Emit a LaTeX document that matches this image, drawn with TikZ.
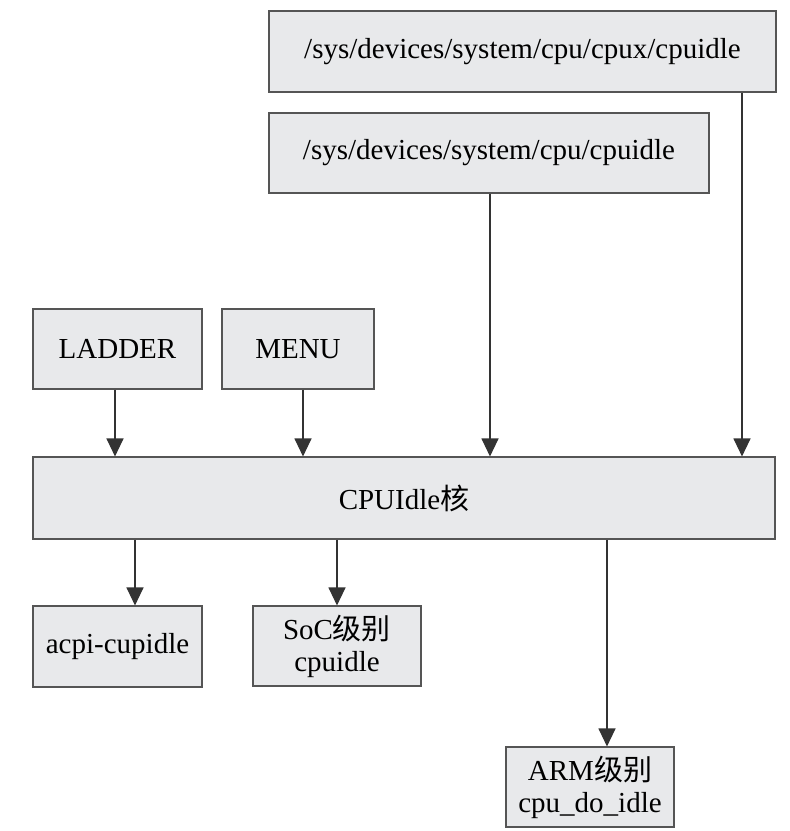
\documentclass[tikz,border=0pt]{standalone}
\usepackage{fontspec}
\setmainfont{Liberation Serif}
\newfontfamily\cjk{Noto Sans CJK SC}
\usetikzlibrary{arrows.meta}
\definecolor{boxfill}{HTML}{E8E9EB}
\definecolor{boxline}{HTML}{555555}
\begin{document}
\begin{tikzpicture}[x=1pt,y=-1pt,
  blk/.style={draw=boxline,fill=boxfill,line width=1.1pt,inner sep=0pt,align=center,font=\fontsize{29}{32}\selectfont},
  arr/.style={draw=black!80,line width=1.1pt,-{Triangle[width=17pt,length=18pt]}}]
\useasboundingbox (0,0) rectangle (790,831);
\node[blk,minimum width=507pt,minimum height=81pt] (cpux) at (522.5,51.5) {/sys/devices/system/cpu/cpux/cpuidle};
\node[blk,minimum width=440pt,minimum height=80pt] (cpu) at (489,153) {/sys/devices/system/cpu/cpuidle};
\node[blk,minimum width=169pt,minimum height=80pt] (ladder) at (117.5,349) {LADDER};
\node[blk,minimum width=152pt,minimum height=80pt] (menu) at (298,349) {MENU};
\node[blk,minimum width=742pt,minimum height=82pt] (core) at (404,498) {CPUIdle{\cjk 核}};
\node[blk,minimum width=169pt,minimum height=81pt] (acpi) at (117.5,646.5) {acpi-cupidle};
\node[blk,minimum width=168pt,minimum height=80pt] (soc) at (337,646) {SoC{\cjk 级别}\\cpuidle};
\node[blk,minimum width=168pt,minimum height=80pt] (arm) at (590,787) {ARM{\cjk 级别}\\cpu\_do\_idle};
\draw[arr] (ladder.south -| 115,0) -- (core.north -| 115,0);
\draw[arr] (menu.south -| 303,0) -- (core.north -| 303,0);
\draw[arr] (cpu.south -| 490,0) -- (core.north -| 490,0);
\draw[arr] (cpux.south -| 742,0) -- (core.north -| 742,0);
\draw[arr] (core.south -| 135,0) -- (acpi.north -| 135,0);
\draw[arr] (core.south -| 337,0) -- (soc.north -| 337,0);
\draw[arr] (core.south -| 607,0) -- (arm.north -| 607,0);
\end{tikzpicture}
\end{document}
